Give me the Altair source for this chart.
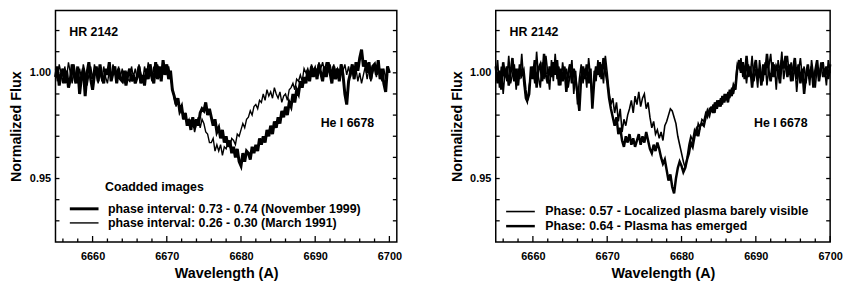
import altair as alt
import pandas as pd

FONT = "Liberation Sans"
WL_START = 6655.0
WL_STEP = 0.25

# Left panel: coadded spectra (values every 0.25 A from 6655 to 6700)
left_nov1999 = [
    .998, 1.003, .994, .999,
    1.002, .995, 1.001, .993,
    .997, 1.004, .999, .995,
    1.003, .990, .998, 1.002,
    .989, 1.000, 1.005, .997,
    .992, .999, 1.003, .996,
    1.004, .998, .995, 1.002,
    .999, 1.005, .996, 1.000,
    1.003, .995, 1.002, .997,
    .996, 1.001, .994, .999,
    1.002, .996, .999, .995,
    .998, 1.003, .995, .999,
    .994, 1.002, .997, 1.004,
    .999, .995, 1.005, .997,
    1.003, .996, 1.006, .999,
    1.004, .997, 1.001, .992,
    .989, .985, .988, .982,
    .984, .978, .981, .975,
    .978, .973, .979, .974,
    .978, .975, .981, .983,
    .982, .986, .980, .983,
    .979, .975, .978, .972,
    .974, .969, .973, .967,
    .970, .965, .968, .962,
    .965, .960, .964, .958,
    .956, .962, .958, .963,
    .962, .959, .965, .962,
    .966, .963, .969, .966,
    .970, .967, .973, .970,
    .975, .971, .977, .974,
    .979, .976, .982, .979,
    .984, .980, .986, .984,
    .990, .986, .992, .990,
    .996, .993, .998, .995,
    1.001, .996, 1.003, .998,
    1.002, .997, 1.004, 1.000,
    .996, 1.003, .998, 1.005,
    1.000, .995, 1.003, .997,
    1.002, .996, 1.004, .999,
    .990, .985, .996, 1.000,
    1.004, .997, 1.005, 1.001,
    1.007, 1.011, 1.003, 1.006,
    1.000, 1.005, .997, 1.003,
    1.004, .999, 1.006, .997,
    1.002, .995, .991, 1.003,
    1.000,
]
left_mar1991 = [
    1.002, .996, 1.004, 1.000,
    .995, 1.003, .998, 1.005,
    1.000, .995, 1.004, .998,
    .996, 1.002, .997, 1.004,
    1.000, .994, .999, 1.003,
    .997, 1.004, 1.000, .995,
    1.002, .996, 1.003, .998,
    .995, 1.001, .997, 1.004,
    1.000, .996, 1.003, .998,
    1.002, .995, 1.001, .997,
    .996, 1.003, .998, 1.002,
    .997, 1.004, 1.000, .996,
    1.003, .998, 1.005, 1.000,
    .996, 1.003, .998, 1.004,
    1.001, .997, 1.005, 1.002,
    1.000, 1.003, .998, .993,
    .988, .984, .987, .981,
    .983, .978, .981, .976,
    .978, .974, .977, .972,
    .976, .979, .974, .978,
    .976, .972, .971, .967,
    .967, .969, .963, .966,
    .963, .966, .961, .965,
    .964, .967, .965, .969,
    .968, .966, .971, .970,
    .973, .976, .974, .978,
    .979, .982, .980, .984,
    .985, .983, .987, .986,
    .990, .987, .992, .989,
    .991, .988, .993, .990,
    .988, .991, .986, .989,
    .990, .987, .992, .993,
    .995, .992, .997, .996,
    .999, .996, 1.002, 1.000,
    1.002, .999, 1.004, 1.001,
    1.003, .999, 1.005, 1.002,
    1.005, 1.001, 1.005, 1.001,
    1.004, 1.000, 1.004, 1.000,
    1.002, .998, 1.004, 1.001,
    1.004, .999, 1.003, .998,
    1.002, .997, 1.002, .996,
    1.000, .995, .999, 1.003,
    .997, 1.002, .996, 1.000,
    1.003, .998, 1.004, 1.000,
    .996, 1.002, .997, 1.003,
    1.000,
]

# Right panel: single phases
right_p057 = [
    .998, 1.006, .993, 1.003,
    .990, 1.001, .996, 1.008,
    .995, .999, 1.004, .992,
    1.002, .997, 1.009, .996,
    .988, .986, .994, .999,
    1.003, .995, 1.010, .998,
    .993, 1.005, .997, 1.008,
    1.000, .992, 1.006, .996,
    1.009, .997, 1.003, .994,
    1.005, .998, 1.002, .993,
    .999, 1.006, .990, 1.001,
    .985, .997, 1.004, .995,
    1.002, .993, 1.007, .998,
    .987, 1.001, .996, 1.006,
    .998, 1.004, .995, 1.008,
    1.000, .991, .985, .988,
    .981, .986, .977, .983,
    .972, .978, .975, .980,
    .983, .987, .981, .989,
    .985, .991, .984, .988,
    .990, .983, .986, .979,
    .974, .977, .971, .973,
    .969, .972, .968, .975,
    .977, .980, .983, .982,
    .979, .976, .970, .966,
    .962, .958, .955, .960,
    .966, .970, .968, .973,
    .971, .976, .974, .978,
    .977, .981, .979, .983,
    .982, .985, .981, .987,
    .984, .988, .985, .990,
    .987, .991, .988, .993,
    .990, .995, 1.004, 1.002,
    1.007, .998, 1.003, .995,
    1.004, .999, 1.008, .996,
    1.002, .993, 1.006, .999,
    .997, 1.005, .994, 1.003,
    1.009, .998, 1.004, .992,
    1.006, 1.000, 1.010, .997,
    1.003, 1.008, .999, 1.005,
    .996, 1.004, .991, 1.001,
    1.007, .998, 1.003, .995,
    1.002, .994, 1.006, .999,
    .993, 1.003, .997, 1.005,
    .998, 1.002, .994, 1.006,
    1.000,
]
right_p064 = [
    1.003, .995, 1.001, .992,
    1.005, .998, 1.003, .994,
    1.000, 1.007, .996, 1.002,
    .994, 1.004, .999, 1.001,
    .992, .987, .990, 1.003,
    .997, 1.006, .993, 1.002,
    1.004, .996, 1.009, .999,
    .995, 1.003, .998, 1.005,
    .999, 1.006, .994, 1.002,
    .996, 1.003, .991, 1.000,
    1.004, .995, 1.002, .997,
    .990, .982, .998, 1.003,
    .997, 1.004, .995, 1.002,
    .983, .996, 1.003, .999,
    1.005, .997, 1.007, 1.001,
    .996, .988, .983, .979,
    .975, .979, .971, .974,
    .968, .965, .970, .967,
    .971, .966, .969, .965,
    .968, .971, .966, .970,
    .967, .972, .968, .964,
    .962, .966, .963, .967,
    .964, .960, .957, .959,
    .954, .949, .952, .946,
    .943, .950, .955, .958,
    .956, .953, .955, .959,
    .962, .967, .965, .970,
    .973, .970, .975, .976,
    .975, .979, .982, .980,
    .984, .981, .986, .983,
    .987, .984, .989, .986,
    .990, .986, .992, .989,
    .994, .992, 1.002, 1.006,
    1.000, 1.005, .997, 1.008,
    .998, 1.003, .993, 1.002,
    1.006, .997, 1.002, .994,
    1.004, .999, 1.009, 1.000,
    .996, 1.005, .998, 1.003,
    1.001, .995, 1.006, 1.002,
    1.008, .998, 1.004, .996,
    1.002, 1.007, .997, 1.004,
    .995, 1.002, .990, .999,
    1.004, .997, 1.003, .993,
    1.001, 1.006, .996, 1.002,
    1.005, .998, 1.003, .997,
    1.004,
]

left_labels = ["phase interval: 0.73 - 0.74 (November 1999)",
               "phase interval: 0.26 - 0.30 (March 1991)"]
right_labels = ["Phase: 0.57 - Localized plasma barely visible",
                "Phase: 0.64 - Plasma has emerged"]

x_major = [6660, 6670, 6680, 6690, 6700]
x_minor = [6656, 6658, 6662, 6664, 6666, 6668, 6672, 6674, 6676, 6678,
           6682, 6684, 6686, 6688, 6692, 6694, 6696, 6698]
y_major = [0.95, 1.00]
y_minor = [0.93, 0.94, 0.96, 0.97, 0.98, 0.99, 1.01, 1.02]

star_label = "HR 2142"
line_label = "He I 6678"
legend_heading = "Coadded images"

H = 234


def spectrum_df(series, labels):
    rows = []
    for vals, lab in zip(series, labels):
        for i, v in enumerate(vals):
            rows.append({"wl": WL_START + WL_STEP * i, "flux": v, "series": lab})
    return pd.DataFrame(rows)


def panel(series, labels, widths, width, xmax, lx, ly, loff, heading=None):
    xs = alt.Scale(domain=[6655, xmax], nice=False, zero=False)
    ys = alt.Scale(domain=[0.92, 1.0295], nice=False, zero=False)
    x_axis = alt.Axis(values=x_major, format="d", title="Wavelength (A)", labelFlush=False)
    y_axis = alt.Axis(values=y_major, format=".2f", title="Normalized Flux",
                      minExtent=26, maxExtent=26)

    df = spectrum_df(series, labels)
    lines = alt.Chart(df).mark_line(color="black", strokeJoin="miter").encode(
        x=alt.X("wl:Q", scale=xs, axis=x_axis),
        y=alt.Y("flux:Q", scale=ys, axis=y_axis),
        strokeWidth=alt.StrokeWidth(
            "series:N",
            scale=alt.Scale(domain=labels, range=widths),
            legend=alt.Legend(
                title=None, orient="none", legendX=lx, legendY=ly,
                symbolType="M-2.9,0H2.9", symbolSize=100,
                symbolStrokeColor="black", symbolFillColor="transparent",
                labelFont=FONT, labelFontWeight="bold", labelFontSize=12.5,
                labelColor="black", labelOffset=loff, labelLimit=500,
                rowPadding=1.5, padding=0,
            ),
        ),
    )

    rule = dict(color="black", strokeWidth=1.3)
    xt_major = alt.Chart(pd.DataFrame({"wl": x_major})).mark_rule(**rule).encode(
        x=alt.X("wl:Q", scale=xs), y=alt.value(H), y2=alt.value(H - 6))
    xt_minor = alt.Chart(pd.DataFrame({"wl": x_minor})).mark_rule(**rule).encode(
        x=alt.X("wl:Q", scale=xs), y=alt.value(H), y2=alt.value(H - 3.5))
    yt_left = alt.Chart(pd.DataFrame({"flux": y_major + y_minor})).mark_rule(**rule).encode(
        y=alt.Y("flux:Q", scale=ys), x=alt.value(0), x2=alt.value(4))
    yt_right = alt.Chart(pd.DataFrame({"flux": y_major + y_minor})).mark_rule(**rule).encode(
        y=alt.Y("flux:Q", scale=ys), x=alt.value(width), x2=alt.value(width - 4))

    txt = dict(font=FONT, fontWeight="bold", color="black", baseline="middle", align="left")
    star = alt.Chart().mark_text(text=star_label, fontSize=12.5, **txt).encode(
        x=alt.value(14), y=alt.value(22))
    line = alt.Chart().mark_text(text=line_label, fontSize=12.5, **txt).encode(
        x=alt.value(width - 77), y=alt.value(114))
    layers = [lines, xt_major, xt_minor, yt_left, yt_right, star, line]
    if heading:
        layers.append(alt.Chart().mark_text(text=heading, fontSize=12.5, **txt).encode(
            x=alt.value(50), y=alt.value(178)))
    return alt.layer(*layers).properties(width=width, height=H)


left = panel([left_nov1999, left_mar1991], left_labels, [3.0, 1.4], 345, 6701,
             22.5, 194, 17.5, heading=legend_heading)
right = panel([right_p057, right_p064], right_labels, [1.6, 2.5], 338, 6700,
              18.5, 197, 18.5)

chart = alt.hconcat(left, right, spacing=100, bounds="flush").resolve_scale(
    x="independent", y="independent", strokeWidth="independent"
).properties(
    padding={"left": 0, "top": 0, "right": 0, "bottom": 0},
    background="white",
).configure_view(
    stroke="black", strokeWidth=1.5
).configure_axis(
    grid=False, domain=False, ticks=False,
    labelFont=FONT, labelFontWeight="bold", labelFontSize=11, labelColor="black",
    titleFont=FONT, titleFontWeight="bold", titleFontSize=14.5, titleColor="black",
).configure_axisX(labelPadding=9, titlePadding=5).configure_axisY(labelPadding=5, titlePadding=6)

chart.save("out.html", embed_options={"renderer": "svg", "actions": False})
